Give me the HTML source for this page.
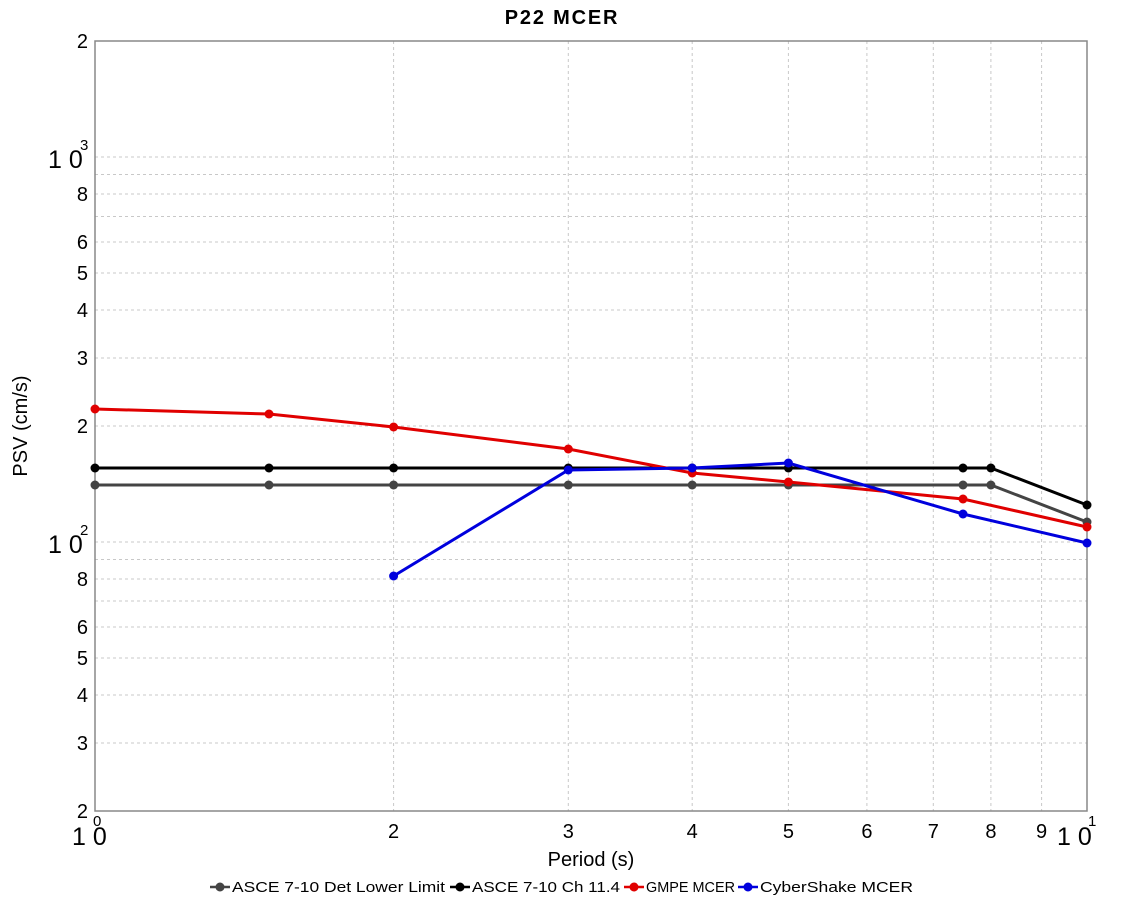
<!DOCTYPE html>
<html><head><meta charset="utf-8"><style>
html,body{margin:0;padding:0;background:#fff;}
svg{display:block;font-family:"Liberation Sans",sans-serif;}
</style></head><body>
<svg width="1125" height="900" viewBox="0 0 1125 900">
<rect width="1125" height="900" fill="#fff"/>
<g stroke="#c8c8c8" stroke-width="1" stroke-dasharray="3,3">
<line x1="393.6" y1="41" x2="393.6" y2="811"/><line x1="568.3" y1="41" x2="568.3" y2="811"/>
<line x1="692.2" y1="41" x2="692.2" y2="811"/><line x1="788.4" y1="41" x2="788.4" y2="811"/>
<line x1="866.9" y1="41" x2="866.9" y2="811"/><line x1="933.3" y1="41" x2="933.3" y2="811"/>
<line x1="990.9" y1="41" x2="990.9" y2="811"/><line x1="1041.6" y1="41" x2="1041.6" y2="811"/>
<line x1="95" y1="743" x2="1087" y2="743"/><line x1="95" y1="695" x2="1087" y2="695"/>
<line x1="95" y1="658" x2="1087" y2="658"/><line x1="95" y1="627" x2="1087" y2="627"/>
<line x1="95" y1="601" x2="1087" y2="601"/><line x1="95" y1="579" x2="1087" y2="579"/>
<line x1="95" y1="559.5" x2="1087" y2="559.5"/><line x1="95" y1="542" x2="1087" y2="542"/>
<line x1="95" y1="426" x2="1087" y2="426"/><line x1="95" y1="358" x2="1087" y2="358"/>
<line x1="95" y1="310" x2="1087" y2="310"/><line x1="95" y1="273" x2="1087" y2="273"/>
<line x1="95" y1="242" x2="1087" y2="242"/><line x1="95" y1="216.5" x2="1087" y2="216.5"/>
<line x1="95" y1="194" x2="1087" y2="194"/><line x1="95" y1="174.5" x2="1087" y2="174.5"/>
<line x1="95" y1="157" x2="1087" y2="157"/>
</g>
<rect x="95" y="41" width="992" height="770" fill="none" stroke="#888" stroke-width="1.5"/>
<text x="562" y="24" text-anchor="middle" font-size="20" font-weight="bold" letter-spacing="1.8">P22 MCER</text>
<g font-size="20" text-anchor="end">
<text x="88" y="818">2</text><text x="88" y="750">3</text><text x="88" y="702">4</text>
<text x="88" y="665">5</text><text x="88" y="634">6</text><text x="88" y="586">8</text>
<text x="88" y="433">2</text><text x="88" y="365">3</text><text x="88" y="317">4</text>
<text x="88" y="280">5</text><text x="88" y="249">6</text><text x="88" y="201">8</text>
<text x="88" y="48">2</text>
</g>
<g font-size="25"><text x="48" y="168">1 0</text><text x="48" y="553">1 0</text></g>
<g font-size="15"><text x="80" y="150">3</text><text x="80" y="535">2</text></g>
<g font-size="20" text-anchor="middle">
<text x="393.6" y="838">2</text><text x="568.3" y="838">3</text><text x="692.2" y="838">4</text>
<text x="788.4" y="838">5</text><text x="866.9" y="838">6</text><text x="933.3" y="838">7</text>
<text x="990.9" y="838">8</text><text x="1041.6" y="838">9</text>
</g>
<g font-size="25"><text x="72" y="845">1 0</text><text x="1057" y="845">1 0</text></g>
<g font-size="15"><text x="93" y="826">0</text><text x="1088" y="826">1</text></g>
<text x="591" y="866" text-anchor="middle" font-size="20">Period (s)</text>
<text transform="translate(27,426) rotate(-90)" text-anchor="middle" font-size="20">PSV (cm/s)</text>
<g stroke-width="3" fill="none">
<polyline stroke="#444" points="95,485 269,485 393.6,485 568.3,485 692.2,485 788.4,485 963,485 990.9,485 1087,522"/>
<polyline stroke="#000" points="95,468 269,468 393.6,468 568.3,468 692.2,468 788.4,468 963,468 990.9,468 1087,505"/>
<polyline stroke="#e00000" points="95,409 269,414 393.6,427 568.3,449 692.2,473 788.4,482 963,499 1087,527"/>
<polyline stroke="#0000dd" points="393.6,576 568.3,470 692.2,468 788.4,463 963,514 1087,543"/>
</g>
<g fill="#444"><circle cx="95" cy="485" r="4.5"/><circle cx="269" cy="485" r="4.5"/><circle cx="393.6" cy="485" r="4.5"/><circle cx="568.3" cy="485" r="4.5"/><circle cx="692.2" cy="485" r="4.5"/><circle cx="788.4" cy="485" r="4.5"/><circle cx="963" cy="485" r="4.5"/><circle cx="990.9" cy="485" r="4.5"/><circle cx="1087" cy="522" r="4.5"/></g>
<g fill="#000"><circle cx="95" cy="468" r="4.5"/><circle cx="269" cy="468" r="4.5"/><circle cx="393.6" cy="468" r="4.5"/><circle cx="568.3" cy="468" r="4.5"/><circle cx="692.2" cy="468" r="4.5"/><circle cx="788.4" cy="468" r="4.5"/><circle cx="963" cy="468" r="4.5"/><circle cx="990.9" cy="468" r="4.5"/><circle cx="1087" cy="505" r="4.5"/></g>
<g fill="#e00000"><circle cx="95" cy="409" r="4.5"/><circle cx="269" cy="414" r="4.5"/><circle cx="393.6" cy="427" r="4.5"/><circle cx="568.3" cy="449" r="4.5"/><circle cx="692.2" cy="473" r="4.5"/><circle cx="788.4" cy="482" r="4.5"/><circle cx="963" cy="499" r="4.5"/><circle cx="1087" cy="527" r="4.5"/></g>
<g fill="#0000dd"><circle cx="393.6" cy="576" r="4.5"/><circle cx="568.3" cy="470" r="4.5"/><circle cx="692.2" cy="468" r="4.5"/><circle cx="788.4" cy="463" r="4.5"/><circle cx="963" cy="514" r="4.5"/><circle cx="1087" cy="543" r="4.5"/></g>
<g font-size="15">
<line x1="210" y1="887" x2="230" y2="887" stroke="#444" stroke-width="2.5"/><circle cx="220" cy="887" r="4.5" fill="#444"/>
<text x="232" y="892" textLength="213" lengthAdjust="spacingAndGlyphs">ASCE 7-10 Det Lower Limit</text>
<line x1="450" y1="887" x2="470" y2="887" stroke="#000" stroke-width="2.5"/><circle cx="460" cy="887" r="4.5" fill="#000"/>
<text x="472" y="892" textLength="148" lengthAdjust="spacingAndGlyphs">ASCE 7-10 Ch 11.4</text>
<line x1="624" y1="887" x2="644" y2="887" stroke="#e00000" stroke-width="2.5"/><circle cx="634" cy="887" r="4.5" fill="#e00000"/>
<text x="646" y="892" textLength="89" lengthAdjust="spacingAndGlyphs">GMPE MCER</text>
<line x1="738" y1="887" x2="758" y2="887" stroke="#0000dd" stroke-width="2.5"/><circle cx="748" cy="887" r="4.5" fill="#0000dd"/>
<text x="760" y="892" textLength="153" lengthAdjust="spacingAndGlyphs">CyberShake MCER</text>
</g>
</svg>
</body></html>
